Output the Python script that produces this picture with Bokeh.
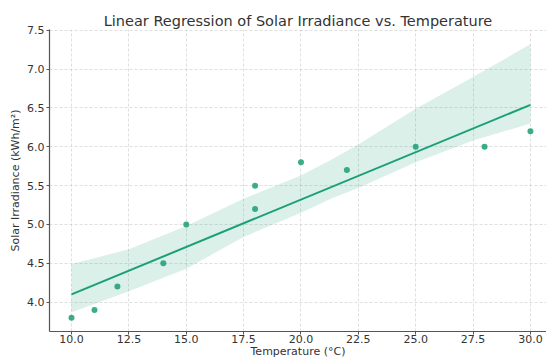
from bokeh.plotting import figure
from bokeh.models import Range1d, FixedTicker, NumeralTickFormatter
from bokeh.embed import file_html
from bokeh.resources import INLINE

# data
temperature = [10, 11, 12, 14, 15, 18, 18, 20, 22, 25, 28, 30]
irradiance = [3.8, 3.9, 4.2, 4.5, 5.0, 5.5, 5.2, 5.8, 5.7, 6.0, 6.0, 6.2]

fit_x = [10, 30]
fit_y = [4.10, 6.54]

band_x = [10, 12.5, 15, 17.5, 20, 21.3, 22.5, 25, 27.5, 30]
band_upper = [4.49, 4.68, 4.98, 5.33, 5.63, 5.83, 6.03, 6.49, 6.90, 7.32]
band_lower = [3.87, 4.14, 4.43, 4.84, 5.15, 5.33, 5.47, 5.80, 6.08, 6.30]

x_ticks = [10.0, 12.5, 15.0, 17.5, 20.0, 22.5, 25.0, 27.5, 30.0]
y_ticks = [4.0, 4.5, 5.0, 5.5, 6.0, 6.5, 7.0, 7.5]

COLOR = "#1a9f78"
FONT = "DejaVu Sans"
TEXT = "#333333"

p = figure(width=546, height=360, output_backend="svg", toolbar_location=None,
           x_range=Range1d(9.04, 30.70), y_range=Range1d(3.622, 7.51),
           min_border_left=49, min_border_top=29, min_border_right=0,
           min_border_bottom=0)

p.title.text = "Linear Regression of Solar Irradiance vs. Temperature"
p.title.text_font = FONT
p.title.text_font_size = "14.5px"
p.title.text_font_style = "normal"
p.title.text_color = TEXT
p.title.align = "center"
p.title.standoff = 2

p.outline_line_color = None

# confidence band
p.varea(x=band_x, y1=band_lower, y2=band_upper, fill_color=COLOR, fill_alpha=0.16)
# regression line
p.line(fit_x, fit_y, line_color=COLOR, line_width=2)
# points
p.scatter(temperature, irradiance, size=6, fill_color=COLOR, fill_alpha=0.85,
          line_color=None)

for ax in (p.xaxis[0], p.yaxis[0]):
    ax.axis_line_color = "#555555"
    ax.axis_line_width = 1.2
    ax.major_tick_line_color = "#555555"
    ax.major_tick_out = 3
    ax.major_tick_in = 0
    ax.minor_tick_line_color = None
    ax.major_label_text_font = FONT
    ax.major_label_text_font_size = "11px"
    ax.major_label_text_color = TEXT
    ax.axis_label_text_font = FONT
    ax.axis_label_text_font_size = "11px"
    ax.axis_label_text_font_style = "normal"
    ax.axis_label_text_color = TEXT
    ax.formatter = NumeralTickFormatter(format="0.0")

p.yaxis[0].major_label_standoff = 2
p.yaxis[0].axis_label_standoff = 2
p.xaxis[0].major_label_standoff = 0
p.xaxis[0].axis_label_standoff = -1

p.xaxis[0].ticker = FixedTicker(ticks=x_ticks)
p.yaxis[0].ticker = FixedTicker(ticks=y_ticks)
p.xaxis[0].axis_label = "Temperature (°C)"
p.yaxis[0].axis_label = "Solar Irradiance (kWh/m²)"

for g in (p.xgrid[0], p.ygrid[0]):
    g.grid_line_color = "#bbbbbb"
    g.grid_line_dash = "3 2"
    g.grid_line_width = 0.8
    g.grid_line_alpha = 0.6
p.xgrid[0].ticker = FixedTicker(ticks=x_ticks)
p.ygrid[0].ticker = FixedTicker(ticks=y_ticks)

open("out.html", "w").write(file_html(p, INLINE))
